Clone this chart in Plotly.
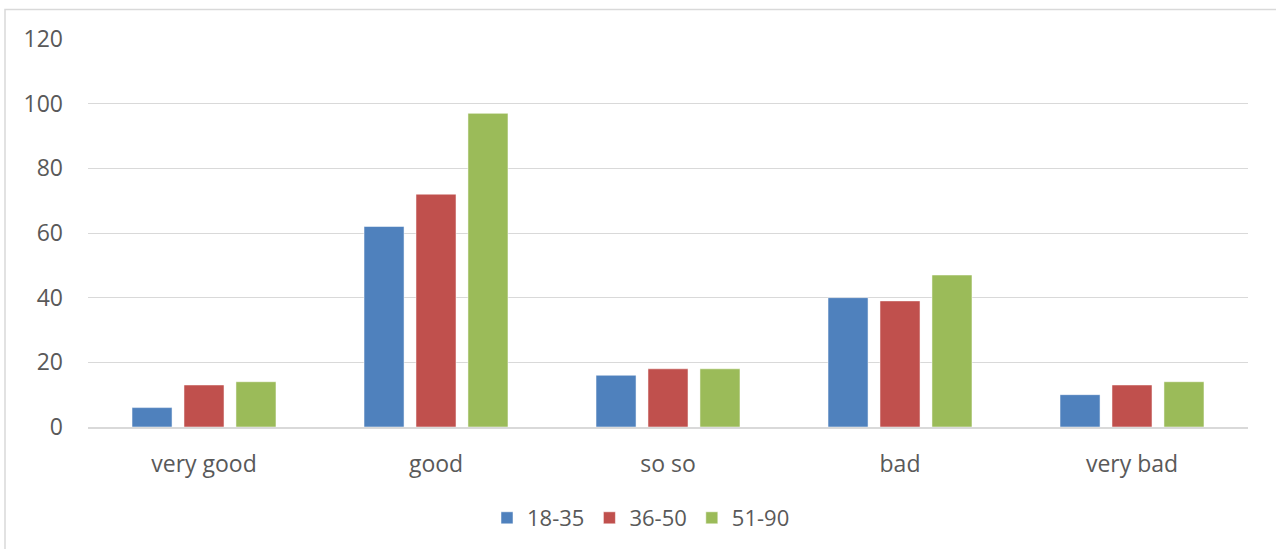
import plotly.graph_objects as go

categories = ["very good", "good", "so so", "bad", "very bad"]
series_names = ["18-35", "36-50", "51-90"]
values_18_35 = [6, 62, 16, 40, 10]
values_36_50 = [13, 72, 18, 39, 13]
values_51_90 = [14, 97, 18, 47, 14]
colors = ["#4F81BD", "#C0504D", "#9BBB59"]
y_ticks = [0, 20, 40, 60, 80, 100, 120]

FONT = "Open Sans, Noto Sans, sans-serif"
TXT = "#595959"

fig = go.Figure()
for name, vals, col in zip(series_names, [values_18_35, values_36_50, values_51_90], colors):
    fig.add_trace(go.Bar(x=categories, y=vals, name=name,
                         marker=dict(color=col, line=dict(color="white", width=0.5))))

W, H = 1276, 549
L, R, T, B = 88, 28, 39, 122
pw, ph = W - L - R, H - T - B

fig.update_layout(
    width=W, height=H,
    margin=dict(l=L, r=R, t=T, b=B),
    paper_bgcolor="white", plot_bgcolor="white",
    barmode="group", bargap=0.328, bargroupgap=0.23,
    font=dict(family=FONT, size=23, color=TXT),
    showlegend=True,
    legend=dict(orientation="h", xref="container", yref="container",
                x=(L + pw / 2 - 27) / W, xanchor="center",
                y=(H - 518) / H, yanchor="middle",
                font=dict(size=22, color=TXT), itemwidth=30,
                traceorder="normal"),
    xaxis=dict(showline=True, linecolor="#d9d9d9", linewidth=1.5,
               showgrid=False, ticks="", ticklabelstandoff=16,
               automargin=False, tickfont=dict(size=23, color=TXT)),
    yaxis=dict(range=[0, 120], tickvals=y_ticks, showgrid=True,
               gridcolor="#d9d9d9", gridwidth=1.2, zeroline=False,
               showline=False, ticks="", ticklabelstandoff=24,
               automargin=False, tickfont=dict(size=23, color=TXT)),
    shapes=[dict(type="rect", xref="paper", yref="paper",
                 x0=(5 - L) / pw, x1=(W + 20 - L) / pw,
                 y0=(T + ph - (H + 20)) / ph, y1=(T + ph - 9.5) / ph,
                 line=dict(color="#d9d9d9", width=1.5), layer="below")],
)

fig.write_html("out.html", config={"displayModeBar": False},
               post_script="document.body.style.margin='0px';document.body.style.overflow='hidden';")
